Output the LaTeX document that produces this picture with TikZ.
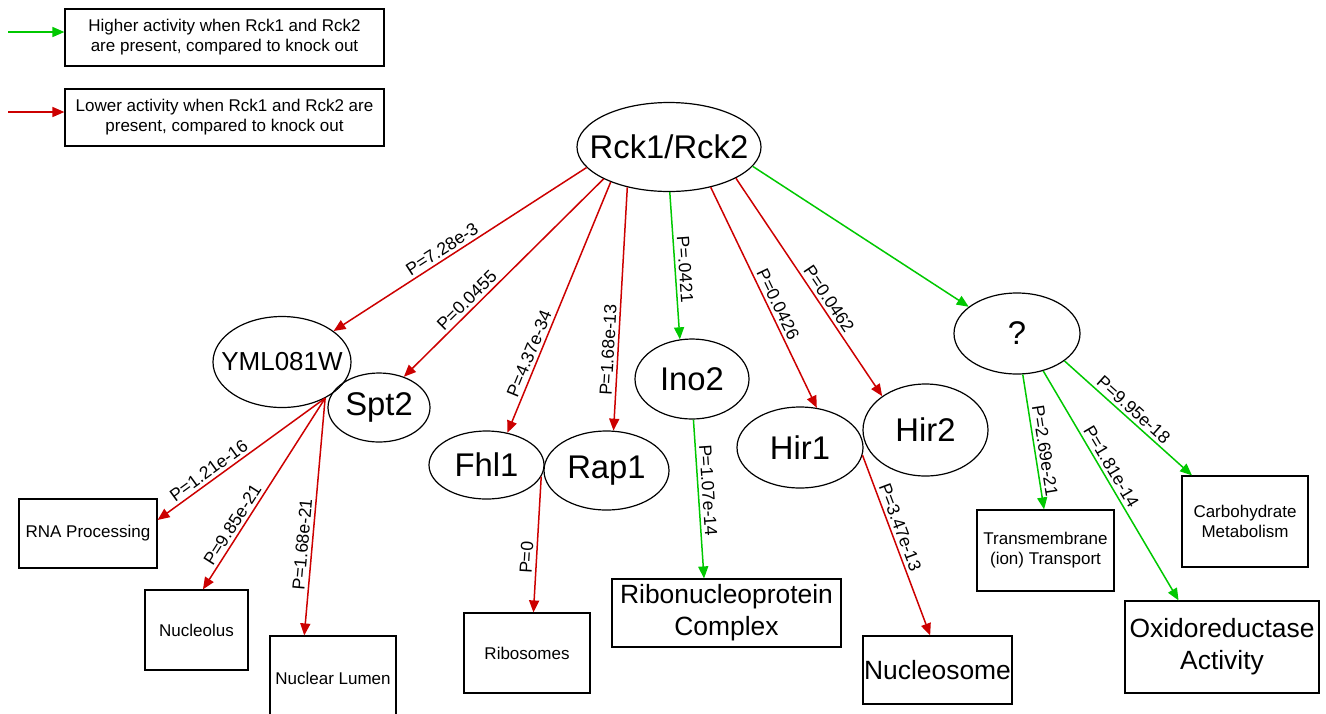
\documentclass[tikz,border=0pt]{standalone}
\usepackage{fontspec}
\setmainfont{Liberation Sans}
\usetikzlibrary{arrows.meta,shapes.geometric}

\definecolor{hicol}{RGB}{0,200,0}
\definecolor{locol}{RGB}{204,0,0}

\begin{document}
\begin{tikzpicture}[x=0.5pt,y=-0.5pt,>={Triangle[length=6pt,width=5pt]},
	gene/.style={draw,ellipse,line width=0.6pt,inner sep=0pt,font=\fontsize{16.4}{19}\selectfont,
		execute at begin node={\hbox to 0pt\bgroup\hss},execute at end node={\hss\egroup}},
	term/.style={draw,rectangle,line width=0.6pt,inner sep=0pt,align=center,font=\fontsize{8.5}{10}\selectfont},
	bigterm/.style={term,font=\fontsize{13.2}{16}\selectfont},
	higher/.style={->,draw=hicol,line width=0.75pt},
	lower/.style={->,draw=locol,line width=0.75pt},
	pval/.style={sloped,above,inner sep=1.5pt,text=black,font=\fontsize{8.8}{10}\selectfont}]

\clip (0,0) rectangle (1326,713);

% legend
\node[term]  (hibox) at (224.5,37.5)  [minimum width=159.5pt,minimum height=28.5pt] {Higher activity when Rck1 and Rck2\\are present, compared to knock out};
\node[term]  (lobox) at (224.5,117.5) [minimum width=159.5pt,minimum height=28.5pt] {Lower activity when Rck1 and Rck2 are\\present, compared to knock out};
\coordinate (g0) at (8,32);
\coordinate (r0) at (8,112);
\draw[higher] (g0) -- (g0 -| hibox.west);
\draw[lower]  (r0) -- (r0 -| lobox.west);

% genes
\node[gene]  (rck)  at (669,147)    [minimum width=92pt,minimum height=44.5pt]   {Rck1/Rck2};
\node[gene]  (yml)  at (282,362)    [minimum width=69pt,minimum height=45.5pt,font=\fontsize{13}{15}\selectfont] {YML081W};
\node[gene]  (spt)  at (379,407.5)  [minimum width=51pt,minimum height=34.5pt]   {Spt2};
\node[gene]  (fhl)  at (486.5,465)  [minimum width=57.5pt,minimum height=34pt]   {Fhl1};
\node[gene]  (rap)  at (606.5,470.5)[minimum width=62.5pt,minimum height=39.5pt] {Rap1};
\node[gene]  (ino)  at (692,379)    [minimum width=57pt,minimum height=40pt]     {Ino2};
\node[gene]  (hira) at (800,447.5)  [minimum width=63pt,minimum height=40.5pt]   {Hir1};
\node[gene]  (hirb) at (925.5,430)  [minimum width=62.5pt,minimum height=46pt]   {Hir2};
\node[gene]  (unk)  at (1017,333.5) [minimum width=63pt,minimum height=40.5pt]   {?};

% terms
\node[term]    (rna)   at (88,533.5)   [minimum width=69pt,minimum height=34.5pt]  {RNA Processing};
\node[term]    (nclo)  at (196.5,630)  [minimum width=51.5pt,minimum height=40pt]  {Nucleolus};
\node[term]    (lumen) at (333,678)    [minimum width=63pt,minimum height=42pt]    {Nuclear Lumen};
\node[term]    (ribo)  at (527,653)    [minimum width=63pt,minimum height=40pt]    {Ribosomes};
\node[bigterm] (rnp)   at (726.5,613)  [minimum width=114.5pt,minimum height=34pt] {Ribonucleoprotein\\Complex};
\node[bigterm] (nsome) at (937.5,670)  [minimum width=74.5pt,minimum height=34pt]  {Nucleosome};
\node[term]    (trans) at (1045.5,550.5)[minimum width=68.5pt,minimum height=40.5pt]{Transmembrane\\(ion) Transport};
\node[term]    (carb)  at (1245,521.5) [minimum width=63pt,minimum height=45.5pt]  {Carbohydrate\\Metabolism};
\node[bigterm] (oxid)  at (1222,647)   [minimum width=97pt,minimum height=46pt]    {Oxidoreductase\\Activity};

% Rck1/Rck2 targets
\path (rck.194) edge[lower]  node[pval,pos=0.55] {P=7.28e-3}  (yml.31)
      (rck.206) edge[lower]  node[pval,pos=0.65] {P=0.0455}   (spt.51)
      (rck.211) edge[lower]  node[pval,pos=0.70] {P=4.37e-34} (fhl.57)
      (rck.224) edge[lower]  node[pval,pos=0.67] {P=1.68e-13} (rap.80)
      (rck.271) edge[higher] node[pval,pos=0.53] {P=.0421}    (ino.107)
      (rck.-44) edge[lower]  node[pval,pos=0.55] {P=0.0426}   (hira.67)
      (rck.-25) edge[lower]  node[pval,pos=0.58] {P=0.0462}   (hirb.142)
      (rck.-13) edge[higher]                                  (unk.151);

% second level
\path (yml.-40) edge[lower]  node[pval,pos=0.66] {P=1.21e-16} (rna.11)
      (yml.-40) edge[lower]  node[pval,pos=0.69] {P=9.85e-21} (nclo.81)
      (yml.-40) edge[lower]  node[pval,pos=0.62] {P=1.68e-21} (lumen.124)
      (fhl.-12) edge[lower]  node[pval,pos=0.60] {P=0}        (ribo.81)
      (ino.272) edge[higher] node[pval,pos=0.45] {P=1.07e-14} (rnp.123)
      (hira.-7) edge[lower]  node[pval,pos=0.42] {P=3.47e-13} (nsome.102)
      (unk.-82) edge[higher] node[pval,pos=0.58] {P=2.69e-21} (trans.92)
      (unk.-55) edge[higher] node[pval,pos=0.44] {P=1.81e-14} (oxid.133)
      (unk.-30) edge[higher] node[pval,pos=0.49] {P=9.95e-18} (carb.139);

\end{tikzpicture}
\end{document}
